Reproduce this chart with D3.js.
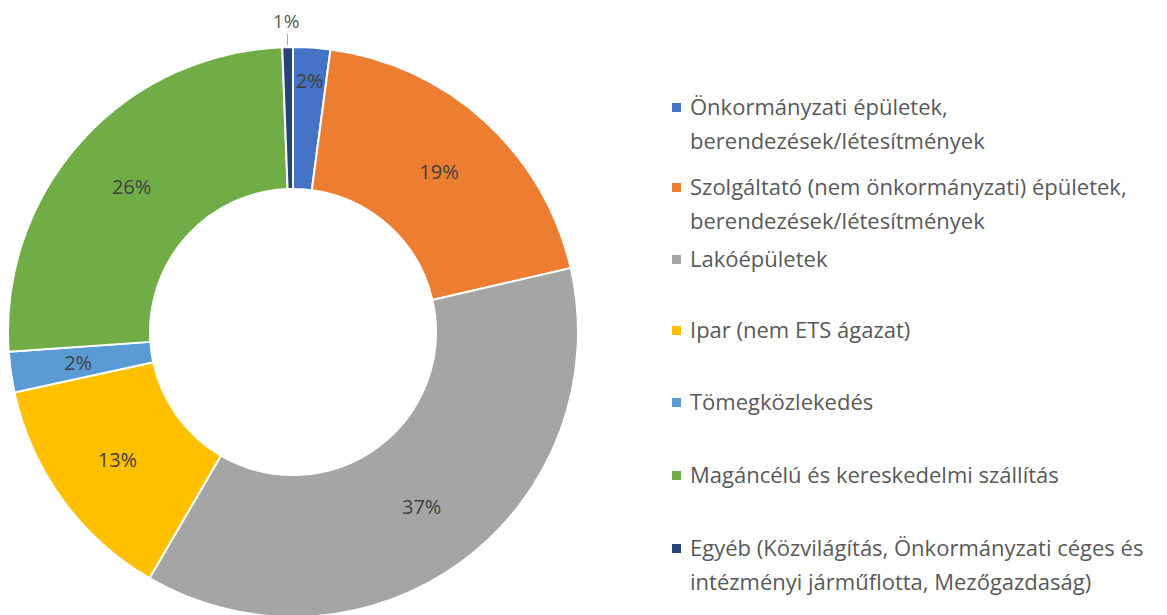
<!DOCTYPE html>
<html>
<head>
<meta charset="utf-8">
<script src="https://cdn.jsdelivr.net/npm/d3@7"></script>
<style>
  body { margin: 0; background: #fff; }
  svg { font-family: "Open Sans", "Noto Sans", sans-serif; }
</style>
</head>
<body>
<div id="chart"></div>
<script>
// Share of emissions by sector (donut)
var categories = [
  "Önkormányzati épületek,\nberendezések/létesítmények",
  "Szolgáltató (nem önkormányzati) épületek,\nberendezések/létesítmények",
  "Lakóépületek",
  "Ipar (nem ETS ágazat)",
  "Tömegközlekedés",
  "Magáncélú és kereskedelmi szállítás",
  "Egyéb (Közvilágítás, Önkormányzati céges és\nintézményi járműflotta, Mezőgazdaság)"
];
var values = [2.1, 19.3, 37.0, 13.2, 2.3, 25.5, 0.6];
var labels = ["2%", "19%", "37%", "13%", "2%", "26%", "1%"];
var colors = ["#4472C4", "#ED7D31", "#A5A5A5", "#FFC000", "#5B9BD5", "#70AD47", "#264478"];

var width = 1167, height = 615;
var cx = 293, cy = 332, outerR = 285, innerR = 143;

var svg = d3.select("#chart").append("svg")
    .attr("width", width)
    .attr("height", height);

var g = svg.append("g").attr("transform", "translate(" + cx + "," + cy + ")");

var pie = d3.pie().sort(null).value(function(d) { return d; });
var arcs = pie(values);

var arc = d3.arc().innerRadius(innerR).outerRadius(outerR);
var labelArc = d3.arc().innerRadius(217).outerRadius(217);
var edgeArc = d3.arc().innerRadius(252).outerRadius(252);

g.selectAll("path")
  .data(arcs)
  .enter().append("path")
    .attr("d", arc)
    .attr("fill", function(d, i) { return colors[i]; })
    .attr("stroke", "#fff")
    .attr("stroke-width", 2);

// data labels (first narrow slice sits near the rim, last one outside with a leader line)
g.selectAll("text.val")
  .data(arcs)
  .enter().append("text")
    .attr("class", "val")
    .attr("transform", function(d, i) {
      if (i == arcs.length - 1) {
        var a = (d.startAngle + d.endAngle) / 2;
        return "translate(" + (Math.sin(a) * 311 - 1) + "," + (-Math.cos(a) * 311) + ")";
      }
      if (i == 0) return "translate(" + edgeArc.centroid(d) + ")";
      return "translate(" + labelArc.centroid(d) + ")";
    })
    .attr("text-anchor", "middle")
    .attr("dy", "0.35em")
    .attr("font-size", function(d, i) { return i == arcs.length - 1 ? 19 : 20; })
    .attr("fill", function(d, i) { return i == arcs.length - 1 ? "#595959" : "#404040"; })
    .text(function(d, i) { return labels[i]; });

var last = arcs[arcs.length - 1];
var la = (last.startAngle + last.endAngle) / 2;
g.append("line")
    .attr("x1", Math.sin(la) * 298).attr("y1", -Math.cos(la) * 298)
    .attr("x2", Math.sin(la) * 287).attr("y2", -Math.cos(la) * 287)
    .attr("stroke", "#a6a6a6")
    .attr("stroke-width", 1);

// legend
var legendY = [107, 187, 259, 330, 402, 475, 548];
var legend = svg.append("g")
    .selectAll("g")
    .data(categories)
    .enter().append("g")
    .attr("transform", function(d, i) { return "translate(672," + legendY[i] + ")"; });

legend.append("rect")
    .attr("x", 0)
    .attr("y", -4)
    .attr("width", 9)
    .attr("height", 9)
    .attr("fill", function(d, i) { return colors[i]; });

legend.append("text")
    .attr("x", 18)
    .attr("y", 0)
    .attr("font-size", 22)
    .attr("fill", "#595959")
    .each(function(d) {
      var t = d3.select(this);
      d.split("\n").forEach(function(line, j) {
        t.append("tspan")
          .attr("x", 18)
          .attr("dy", j == 0 ? "0.35em" : 34)
          .text(line);
      });
    });
</script>
</body>
</html>
